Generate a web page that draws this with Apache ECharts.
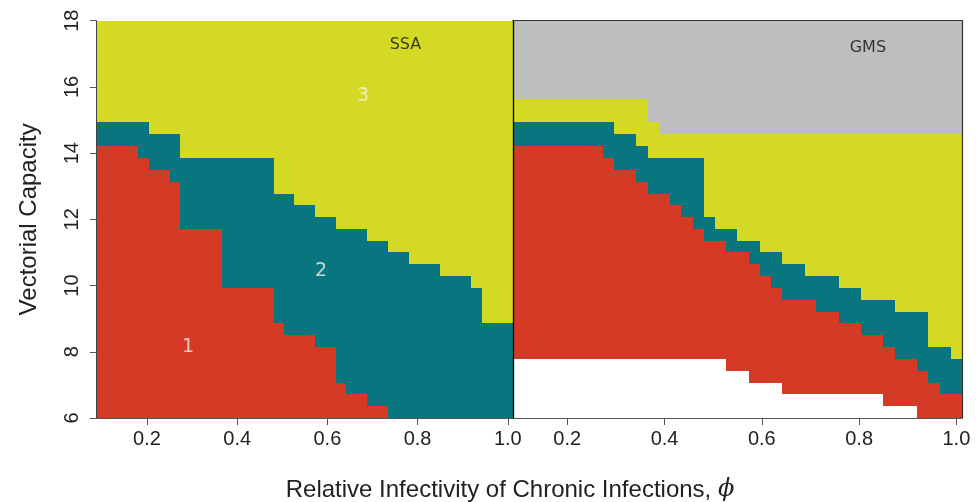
<!DOCTYPE html>
<html><head><meta charset="utf-8">
<script src="https://cdn.jsdelivr.net/npm/echarts@6/dist/echarts.min.js"></script>
<style>html,body{margin:0;padding:0;background:#fff}#c{width:976px;height:502px}</style>
</head><body><div id="c"></div>
<script>
// column centres of the phi grid (relative infectivity)
const phi = [0.1000,0.1231,0.1462,0.1692,0.1923,0.2154,0.2385,0.2615,0.2846,0.3077,
             0.3308,0.3538,0.3769,0.4000,0.4231,0.4462,0.4692,0.4923,0.5154,0.5385,
             0.5615,0.5846,0.6077,0.6308,0.6538,0.6769,0.7000,0.7231,0.7462,0.7692,
             0.7923,0.8154,0.8385,0.8615,0.8846,0.9077,0.9308,0.9538,0.9769,1.0000];

// SSA: upper edge of region 1 (red) and of region 2 (teal) per column
const ssaRedTop = [14.21,14.21,14.21,14.21,13.85,13.50,13.50,13.14,11.71,11.71,
                   11.71,11.71,9.93,9.93,9.93,9.93,9.93,8.86,8.50,8.50,
                   8.50,8.14,8.14,7.07,6.71,6.71,6.36,6.36,6.00,6.00,
                   6.00,6.00,6.00,6.00,6.00,6.00,6.00,6.00,6.00,6.00];
const ssaTealTop = [14.93,14.93,14.93,14.93,14.93,14.57,14.57,14.57,13.85,13.85,
                    13.85,13.85,13.85,13.85,13.85,13.85,13.85,12.78,12.78,12.43,
                    12.43,12.07,12.07,11.71,11.71,11.71,11.36,11.36,11.00,11.00,
                    10.64,10.64,10.64,10.28,10.28,10.28,9.93,8.86,8.86,8.86];

// GMS: upper edges of white, red, teal and yellow regions (gray above)
const gmsWhiteTop = [7.79,7.79,7.79,7.79,7.79,7.79,7.79,7.79,7.79,7.79,
                     7.79,7.79,7.79,7.79,7.79,7.79,7.79,7.79,7.79,7.43,
                     7.43,7.07,7.07,7.07,6.71,6.71,6.71,6.71,6.71,6.71,
                     6.71,6.71,6.71,6.36,6.36,6.36,6.00,6.00,6.00,6.00];
const gmsRedTop = [14.21,14.21,14.21,14.21,14.21,14.21,14.21,14.21,13.85,13.50,
                   13.50,13.14,12.78,12.78,12.43,12.07,11.71,11.36,11.36,11.00,
                   11.00,10.64,10.28,9.93,9.57,9.57,9.57,9.21,9.21,8.86,
                   8.86,8.50,8.50,8.14,7.79,7.79,7.43,7.07,6.71,6.71];
const gmsTealTop = [14.93,14.93,14.93,14.93,14.93,14.93,14.93,14.93,14.93,14.57,
                    14.57,14.21,13.85,13.85,13.85,13.85,13.85,12.07,11.71,11.71,
                    11.36,11.36,11.00,11.00,10.64,10.64,10.28,10.28,10.28,9.93,
                    9.93,9.57,9.57,9.57,9.21,9.21,9.21,8.14,8.14,7.79];
const gmsYellowTop = [15.64,15.64,15.64,15.64,15.64,15.64,15.64,15.64,15.64,15.64,
                      15.64,15.64,14.93,14.57,14.57,14.57,14.57,14.57,14.57,14.57,
                      14.57,14.57,14.57,14.57,14.57,14.57,14.57,14.57,14.57,14.57,
                      14.57,14.57,14.57,14.57,14.57,14.57,14.57,14.57,14.57,14.57];

const xTicks = [0.2, 0.4, 0.6, 0.8, 1.0];
const yTicks = [6, 8, 10, 12, 14, 16, 18];

// region numbers in SSA panel: [phi, VC, text]
const regionNumbers = [[0.291, 8.14, '1'], [0.586, 10.44, '2'], [0.679, 15.73, '3']];
const ssaTitle = [[0.773, 17.27, 'SSA']];
const gmsTitle = [[0.818, 17.18, 'GMS']];

const Y_MIN = yTicks[0], Y_MAX = yTicks[yTicks.length - 1];
const halfStep = (phi[1] - phi[0]) / 2;
const xMin = phi[0] - halfStep, xMax = phi[phi.length - 1] + halfStep;

const C = { red: '#D43A26', teal: '#09767F', yellow: '#D3D925', gray: '#BEBEBE', white: '#FFFFFF' };
const SANS = "'Liberation Sans', Arial, Helvetica, sans-serif";
const VERD = "'DejaVu Sans', Verdana, sans-serif";

// merge consecutive columns sharing the same lower/upper edge into one block: [xFrom, xTo, yLow, yHigh]
function band(lower, upper) {
  const out = [];
  phi.forEach((x, i) => {
    const lo = lower ? lower[i] : Y_MIN, hi = upper ? upper[i] : Y_MAX;
    if (hi <= lo) return;
    const last = out[out.length - 1];
    if (last && last._i === i - 1 && last[2] === lo && last[3] === hi) {
      last[1] = x + halfStep; last._i = i;
    } else {
      const d = [x - halfStep, x + halfStep, lo, hi]; d._i = i; out.push(d);
    }
  });
  return out.map(d => [d[0], d[1], d[2], d[3]]);
}
function renderCell(params, api) {
  const p0 = api.coord([api.value(0), api.value(3)]);
  const p1 = api.coord([api.value(1), api.value(2)]);
  const x0 = Math.round(p0[0]), x1 = Math.round(p1[0]);
  const y0 = Math.round(p0[1]), y1 = Math.round(p1[1]);
  return {
    type: 'rect',
    shape: { x: x0, y: y0, width: x1 - x0, height: y1 - y0 },
    style: { fill: api.visual('color') }
  };
}
function regionSeries(name, gi, data, color) {
  return { name, type: 'custom', xAxisIndex: gi, yAxisIndex: gi, renderItem: renderCell,
           encode: { x: [0, 1], y: [2, 3] },
           data, itemStyle: { color }, clip: true, silent: true, z: 1 };
}
function textSeries(gi, data, color, size, family) {
  return { type: 'scatter', xAxisIndex: gi, yAxisIndex: gi, symbolSize: 0, z: 5, silent: true,
           data: data.map(d => ({ value: [d[0], d[1]], name: d[2] })),
           label: { show: true, position: 'inside', formatter: p => p.name, color,
                    fontSize: size, fontFamily: family } };
}

const xAxisBase = gi => ({
  gridIndex: gi, type: 'value', min: xMin, max: xMax, z: 10,
  axisLine: { show: true, onZero: false, lineStyle: { color: '#555', width: 1 } },
  axisTick: { show: true, customValues: xTicks, length: 7, lineStyle: { color: '#555' } },
  axisLabel: { customValues: xTicks, formatter: v => v.toFixed(1), fontSize: 20, color: '#222',
               margin: 11, fontFamily: SANS },
  splitLine: { show: false }
});
const frameAxis = (gi, pos, isX) => Object.assign({
  gridIndex: gi, type: 'value', position: pos, z: 10,
  axisLine: { show: true, onZero: false, lineStyle: { color: '#333', width: 1.2 } },
  axisTick: { show: false }, axisLabel: { show: false }, splitLine: { show: false }
}, isX ? { min: xMin, max: xMax } : { min: Y_MIN, max: Y_MAX });

const chart = echarts.init(document.getElementById('c'), null, { renderer: 'canvas' });
chart.setOption({
  animation: false,
  backgroundColor: '#fff',
  grid: [
    { left: 96.7, top: 20.7, width: 416.3, height: 397.3 },
    { left: 513, top: 20.7, width: 449, height: 397.3 }
  ],
  xAxis: [xAxisBase(0), xAxisBase(1), frameAxis(1, 'top', true)],
  yAxis: [
    { gridIndex: 0, type: 'value', min: Y_MIN, max: Y_MAX, interval: 2, z: 10,
      axisLine: { show: true, lineStyle: { color: '#444', width: 1 } },
      axisTick: { show: true, length: 7, lineStyle: { color: '#555' } },
      axisLabel: { rotate: 90, fontSize: 20, color: '#222', margin: 14, fontFamily: SANS },
      splitLine: { show: false },
      name: 'Vectorial Capacity', nameLocation: 'middle', nameRotate: 90, nameGap: 55,
      nameTextStyle: { fontSize: 24, color: '#222', fontFamily: SANS } },
    { gridIndex: 1, type: 'value', min: Y_MIN, max: Y_MAX, interval: 2, z: 10,
      axisLine: { show: true, lineStyle: { color: '#000', width: 1.3 } },
      axisTick: { show: false }, axisLabel: { show: false }, splitLine: { show: false } },
    frameAxis(1, 'right', false)
  ],
  graphic: [{
    type: 'text', x: 510, y: 478, z: 20,
    style: { text: 'Relative Infectivity of Chronic Infections, {i|ϕ}', fontSize: 24, fill: '#222',
             fontFamily: SANS, textAlign: 'center',
             rich: { i: { fontStyle: 'italic', fontSize: 24, fontFamily: "'DejaVu Serif', serif", fill: '#222' } } }
  }],
  series: [
    regionSeries('SSA 1', 0, band(null, ssaRedTop), C.red),
    regionSeries('SSA 2', 0, band(ssaRedTop, ssaTealTop), C.teal),
    regionSeries('SSA 3', 0, band(ssaTealTop, null), C.yellow),
    regionSeries('GMS 0', 1, band(null, gmsWhiteTop), C.white),
    regionSeries('GMS 1', 1, band(gmsWhiteTop, gmsRedTop), C.red),
    regionSeries('GMS 2', 1, band(gmsRedTop, gmsTealTop), C.teal),
    regionSeries('GMS 3', 1, band(gmsTealTop, gmsYellowTop), C.yellow),
    regionSeries('GMS 4', 1, band(gmsYellowTop, null), C.gray),
    textSeries(0, regionNumbers, '#F4F1E4', 19, VERD),
    textSeries(0, ssaTitle, '#111', 16, VERD),
    textSeries(1, gmsTitle, '#111', 16, VERD)
  ]
});
</script>
</body></html>
